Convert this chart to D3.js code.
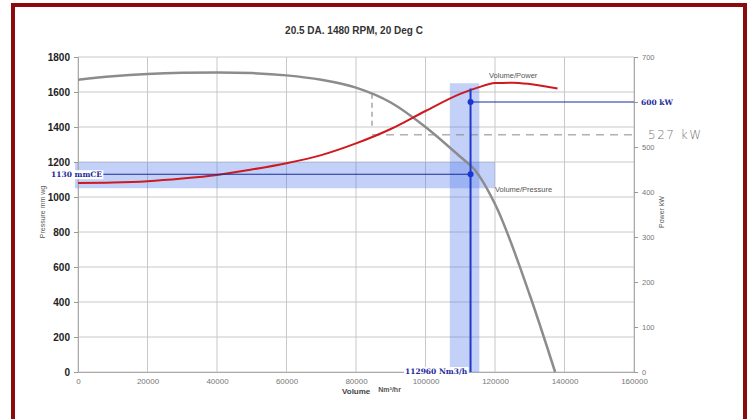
<!DOCTYPE html>
<html>
<head>
  <meta charset="utf-8">
  <title>Fan curve</title>
  <script src="https://cdn.jsdelivr.net/npm/d3@7"></script>
  <style>
    body { margin: 0; background: #fff; }
  </style>
</head>
<body>
  <div id="chart"></div>
  <script>
    // volume (Nm3/hr) vs pressure (mm wg)
    const pressureVol = [0, 10000, 20000, 30000, 40000, 50000, 60000, 70000, 80000, 90000, 100000, 110000, 114000, 120000, 130000, 137300]
    const pressureVal = [1670, 1690, 1703, 1710, 1712, 1708, 1695, 1670, 1625, 1540, 1400, 1230, 1160, 960, 440, 0]

    // volume vs power (kW)
    const powerVol = [0, 10000, 20000, 30000, 40000, 50000, 60000, 70000, 80000, 90000, 100000, 110000, 115000, 120000, 125000, 130000, 138000]
    const powerVal = [420, 421, 424, 430, 438, 450, 464, 482, 508, 540, 580, 618, 632, 642, 643, 640, 630]

    const xTicks = [0, 20000, 40000, 60000, 80000, 100000, 120000, 140000, 160000]
    const pTicks = [0, 200, 400, 600, 800, 1000, 1200, 1400, 1600, 1800]
    const wTicks = [0, 100, 200, 300, 400, 500, 600, 700]

    // duty point
    const dutyVol = 112960
    const dutyPressure = 1130
    const dutyPower = 600
    const ratedPower = 527
    const ratedVol = 84600
    // highlight bands
    const pressureBand = [1050, 1200]
    const pressureBandVol = [0, 120000]
    const volumeBand = [107000, 115500]
    const volumeBandTop = 1650

    const width = 750
    const height = 419

    const svg = d3.select("#chart").append("svg")
      .attr("width", width)
      .attr("height", height)

    // frame
    svg.append("rect")
      .attr("x", 13).attr("y", 5)
      .attr("width", 732).attr("height", 430)
      .attr("fill", "none")
      .attr("stroke", "#8b0b0b")
      .attr("stroke-width", 4)

    const x = d3.scaleLinear().domain([0, 160000]).range([78, 634])
    const yP = d3.scaleLinear().domain([0, 1800]).range([372, 57])
    const yW = d3.scaleLinear().domain([0, 700]).range([372, 57])

    // grid
    const grid = svg.append("g").attr("stroke", "#c8c8c8").attr("stroke-width", 1)
    grid.selectAll(".h").data(pTicks).enter().append("line")
      .attr("x1", x(0)).attr("x2", x(160000))
      .attr("y1", d => yP(d)).attr("y2", d => yP(d))
    grid.selectAll(".v").data(xTicks).enter().append("line")
      .attr("x1", d => x(d)).attr("x2", d => x(d))
      .attr("y1", yP(0)).attr("y2", yP(1800))

    // bands
    const bandFill = "rgba(80,120,235,0.34)"
    svg.append("rect")
      .attr("x", x(pressureBandVol[0]) - 3)
      .attr("y", yP(pressureBand[1]))
      .attr("width", x(pressureBandVol[1]) - x(pressureBandVol[0]) + 3)
      .attr("height", yP(pressureBand[0]) - yP(pressureBand[1]))
      .attr("fill", bandFill)
    svg.append("rect")
      .attr("x", x(volumeBand[0]))
      .attr("y", yP(volumeBandTop))
      .attr("width", x(volumeBand[1]) - x(volumeBand[0]))
      .attr("height", yP(0) - yP(volumeBandTop))
      .attr("fill", bandFill)

    // axes
    const axisFont = "'Liberation Sans', Arial, sans-serif"
    const narrow = "'Liberation Sans Narrow', 'Liberation Sans', sans-serif"
    const left = svg.append("g")
      .attr("transform", `translate(${x(0)},0)`)
      .call(d3.axisLeft(yP).tickValues(pTicks).tickSize(4).tickPadding(4).tickFormat(d3.format("d")))
    left.select(".domain").attr("stroke", "#aaa")
    left.selectAll(".tick line").attr("stroke", "#999")
    left.selectAll("text")
      .attr("font-family", narrow)
      .attr("font-weight", "bold").attr("font-size", 10).attr("fill", "#222")

    // the 600 tick text is covered by the duty label in the original
    const right = svg.append("g")
      .attr("transform", `translate(${x(160000)},0)`)
      .call(d3.axisRight(yW).tickValues(wTicks).tickSize(4).tickPadding(4)
        .tickFormat(d => d === dutyPower ? "" : d))
    right.select(".domain").attr("stroke", "#aaa")
    right.selectAll(".tick line").attr("stroke", "#999")
    right.selectAll("text")
      .attr("font-family", axisFont).attr("font-size", 7.5).attr("fill", "#777")

    const bottom = svg.append("g")
      .attr("transform", `translate(0,${yP(0)})`)
      .call(d3.axisBottom(x).tickValues(xTicks).tickSize(0).tickPadding(6).tickFormat(d3.format("d")))
    bottom.select(".domain").attr("stroke", "#aaa")
    bottom.selectAll("text")
      .attr("font-family", axisFont).attr("font-size", 8).attr("fill", "#777")

    // hand drawn 527 kW annotation
    svg.append("line")
      .attr("x1", x(ratedVol)).attr("x2", x(160000) + 4)
      .attr("y1", yW(ratedPower)).attr("y2", yW(ratedPower))
      .attr("stroke", "#888").attr("stroke-width", 1)
      .attr("stroke-dasharray", "8,6")
    svg.append("line")
      .attr("x1", x(ratedVol)).attr("x2", x(ratedVol))
      .attr("y1", yP(1590)).attr("y2", yW(ratedPower) - 8)
      .attr("stroke", "#777").attr("stroke-width", 1)
      .attr("stroke-dasharray", "5,4")
    svg.append("text")
      .attr("x", 648).attr("y", yW(ratedPower) + 4)
      .attr("font-family", "'DejaVu Sans', sans-serif")
      .attr("font-size", 12).attr("font-weight", 200)
      .attr("letter-spacing", 1.5)
      .attr("fill", "#777")
      .text("527 kW")

    // curves
    const pressureData = pressureVol.map((v, i) => [v, pressureVal[i]])
    const powerData = powerVol.map((v, i) => [v, powerVal[i]])

    svg.append("path")
      .datum(pressureData)
      .attr("fill", "none")
      .attr("stroke", "#8c8c8c")
      .attr("stroke-width", 2.5)
      .attr("d", d3.line().x(d => x(d[0])).y(d => yP(d[1])).curve(d3.curveMonotoneX))

    svg.append("path")
      .datum(powerData)
      .attr("fill", "none")
      .attr("stroke", "#cc1a1f")
      .attr("stroke-width", 2)
      .attr("d", d3.line().x(d => x(d[0])).y(d => yW(d[1])).curve(d3.curveMonotoneX))

    // duty point lines
    const navy = "#1c2a9c"
    svg.append("line")
      .attr("x1", x(0) + 25).attr("x2", x(dutyVol))
      .attr("y1", yP(dutyPressure)).attr("y2", yP(dutyPressure))
      .attr("stroke", navy).attr("stroke-width", 1.2)
    svg.append("line")
      .attr("x1", x(dutyVol)).attr("x2", x(160000))
      .attr("y1", yW(dutyPower)).attr("y2", yW(dutyPower))
      .attr("stroke", navy).attr("stroke-width", 1.2)
    svg.append("line")
      .attr("x1", x(dutyVol)).attr("x2", x(dutyVol))
      .attr("y1", yW(630)).attr("y2", yP(0))
      .attr("stroke", "#2238c8").attr("stroke-width", 2)
    svg.selectAll(".dot")
      .data([yP(dutyPressure), yW(dutyPower)])
      .enter().append("circle")
      .attr("cx", x(dutyVol)).attr("cy", d => d)
      .attr("r", 3).attr("fill", "#1a36d0")

    // duty labels
    const labelFont = "'DejaVu Serif', serif"
    function dutyLabel(tx, ty, txt) {
      const t = svg.append("text")
        .attr("x", tx).attr("y", ty)
        .attr("font-family", labelFont).attr("font-weight", "bold")
        .attr("font-size", 7.5).attr("fill", navy)
        .text(txt)
      const b = t.node().getBBox()
      svg.insert("rect", () => t.node())
        .attr("x", b.x - 1).attr("y", b.y)
        .attr("width", b.width + 2).attr("height", b.height)
        .attr("fill", "#fff")
    }
    dutyLabel(51, yP(dutyPressure) + 3, "1130 mmCE")
    dutyLabel(641, yW(dutyPower) + 3, "600 kW")
    dutyLabel(405, 374, "112960 Nm3/h")

    // series labels
    svg.append("text")
      .attr("x", 489).attr("y", 78)
      .attr("font-family", axisFont).attr("font-size", 7.5).attr("fill", "#555")
      .text("Volume/Power")
    svg.append("text")
      .attr("x", 495).attr("y", 192)
      .attr("font-family", axisFont).attr("font-size", 7.5).attr("fill", "#555")
      .text("Volume/Pressure")

    // title + axis titles
    svg.append("text")
      .attr("x", 354).attr("y", 34)
      .attr("text-anchor", "middle")
      .attr("font-family", axisFont).attr("font-weight", "bold")
      .attr("font-size", 10).attr("fill", "#333")
      .text("20.5 DA. 1480 RPM, 20 Deg C")

    const xt = svg.append("text")
      .attr("x", 342).attr("y", 394)
      .attr("font-family", axisFont).attr("font-size", 8).attr("fill", "#444")
    xt.append("tspan").attr("font-weight", "bold").text("Volume")
    xt.append("tspan").attr("dx", 8).attr("dy", -2).attr("font-size", 7).attr("font-weight", "bold").attr("fill", "#555").text("Nm³/hr")

    svg.append("text")
      .attr("transform", `translate(45,212) rotate(-90)`)
      .attr("text-anchor", "middle")
      .attr("font-family", narrow)
      .attr("font-size", 7).attr("fill", "#555")
      .text("Pressure   mm wg")
    svg.append("text")
      .attr("transform", `translate(664,212) rotate(-90)`)
      .attr("text-anchor", "middle")
      .attr("font-family", narrow)
      .attr("font-size", 7).attr("fill", "#555")
      .text("Power kW")
  </script>
</body>
</html>
